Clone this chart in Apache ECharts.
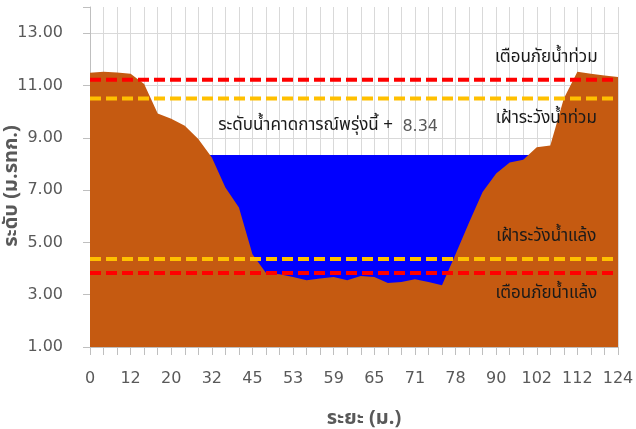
<!DOCTYPE html>
<html>
<head>
<meta charset="utf-8">
<script src="https://cdn.jsdelivr.net/npm/echarts@6/dist/echarts.min.js"></script>
<style>
  html, body { margin: 0; padding: 0; background: #fff; }
  #chart { width: 636px; height: 429px; }
</style>
</head>
<body>
<div id="chart"></div>
<script>
// ระยะ (ม.) - ป้ายที่แสดงทุก 3 จุด
var distances = ['0', '4', '8', '12', '15', '17', '20', '24', '28', '32',
                 '36', '41', '45', '48', '50', '53', '55', '57', '59', '61',
                 '63', '65', '67', '69', '71', '73', '75', '78', '82', '86',
                 '90', '94', '98', '102', '105', '109', '112', '116', '120', '124'];
// ระดับตลิ่ง/ท้องน้ำ (ม.รทก.)
var ground = [11.49, 11.52, 11.50, 11.45, 11.06, 9.93, 9.73, 9.46, 8.95, 8.25,
              7.10, 6.33, 4.55, 3.83, 3.78, 3.68, 3.55, 3.62, 3.68, 3.55,
              3.71, 3.68, 3.45, 3.49, 3.59, 3.49, 3.36, 4.55, 5.76, 6.93,
              7.63, 8.05, 8.16, 8.64, 8.70, 10.50, 11.52, 11.45, 11.38, 11.32];
var forecast = 8.34;       // ระดับน้ำคาดการณ์พรุ่งนี้
var floodWarn = 11.22;     // เตือนภัยน้ำท่วม
var floodWatch = 10.50;    // เฝ้าระวังน้ำท่วม
var droughtWatch = 4.36;   // เฝ้าระวังน้ำแล้ง
var droughtWarn = 3.83;    // เตือนภัยน้ำแล้ง

var thaiFont = "'Noto Sans Thai', 'Noto Sans', 'DejaVu Sans', sans-serif";
var numFont = "'DejaVu Sans', sans-serif";

var myChart = echarts.init(document.getElementById('chart'));

function levelLine(value, color, text, above) {
    return {
        type: 'line',
        data: distances.map(function () { return value; }),
        symbol: 'none',
        silent: true,
        z: 5,
        lineStyle: { color: color, width: 4, type: [11, 5] },
        markPoint: {
            symbol: 'circle',
            symbolSize: 0,
            silent: true,
            data: [{ coord: [34, value] }],
            label: {
                show: true,
                formatter: text,
                position: above ? 'top' : 'bottom',
                distance: 13,
                offset: [-4, 0],
                fontFamily: thaiFont,
                fontSize: 17,
                color: '#1a1a1a'
            }
        }
    };
}

var option = {
    animation: false,
    grid: { left: 90, right: 18, top: 7, bottom: 82, outerBoundsMode: 'none' },
    xAxis: {
        type: 'category',
        data: distances,
        boundaryGap: false,
        name: 'ระยะ (ม.)',
        nameLocation: 'middle',
        nameGap: 63,
        nameMoveOverlap: false,
        nameTextStyle: { fontFamily: thaiFont, fontSize: 20, fontWeight: 'bold', color: '#595959', padding: [0, 0, 0, 20] },
        axisLine: { lineStyle: { color: '#bfbfbf', width: 1 } },
        axisTick: { show: true, interval: 0, length: 8, lineStyle: { color: '#bfbfbf' } },
        axisLabel: { interval: 2, margin: 24, fontFamily: numFont, fontSize: 16, color: '#595959' },
        splitLine: { show: true, interval: 0, lineStyle: { color: '#d9d9d9', width: 1 } }
    },
    yAxis: {
        type: 'value',
        min: 1,
        max: 14,
        interval: 2,
        name: 'ระดับ (ม.รทก.)',
        nameLocation: 'middle',
        nameGap: 67,
        nameMoveOverlap: false,
        nameRotate: 90,
        nameTextStyle: { fontFamily: thaiFont, fontSize: 20, fontWeight: 'bold', color: '#595959', padding: [0, 18, 0, 0] },
        axisLine: { show: true, lineStyle: { color: '#bfbfbf', width: 1 } },
        axisTick: { show: true, length: 7, lineStyle: { color: '#bfbfbf' } },
        axisLabel: {
            margin: 27, fontFamily: numFont, fontSize: 16, color: '#595959',
            formatter: function (v) { return v > 13 ? '' : v.toFixed(2); }
        },
        splitLine: {
            show: true,
            lineStyle: { color: ['#d9d9d9', '#d9d9d9', '#d9d9d9', '#d9d9d9', '#d9d9d9', '#d9d9d9', '#d9d9d9', 'rgba(0,0,0,0)'] }
        }
    },
    series: [
        {
            name: 'ระดับน้ำคาดการณ์',
            type: 'line',
            data: distances.map(function () { return forecast; }),
            symbol: 'none',
            lineStyle: { width: 0 },
            areaStyle: { color: '#0000ff', opacity: 1, origin: 'start' },
            z: 1,
            markPoint: {
                symbol: 'circle',
                symbolSize: 0,
                silent: true,
                data: [{ coord: [17, forecast] }],
                label: {
                    show: true,
                    position: 'top',
                    distance: 20,
                    offset: [8, 0],
                    formatter: '{a|ระดับน้ำคาดการณ์พรุ่งนี้ + }{b| ' + forecast.toFixed(2) + '}',
                    rich: {
                        a: { fontFamily: thaiFont, fontSize: 17, color: '#1a1a1a' },
                        b: { fontFamily: numFont, fontSize: 16, color: '#595959' }
                    }
                }
            }
        },
        {
            name: 'ตลิ่ง',
            type: 'line',
            data: ground,
            symbol: 'none',
            lineStyle: { width: 0 },
            areaStyle: { color: '#c55a11', opacity: 1, origin: 'start' },
            z: 2
        },
        levelLine(floodWarn, '#ff0000', 'เตือนภัยน้ำท่วม', true),
        levelLine(floodWatch, '#ffc000', 'เฝ้าระวังน้ำท่วม', false),
        levelLine(droughtWatch, '#ffc000', 'เฝ้าระวังน้ำแล้ง', true),
        levelLine(droughtWarn, '#ff0000', 'เตือนภัยน้ำแล้ง', false)
    ]
};

myChart.setOption(option);
</script>
</body>
</html>
